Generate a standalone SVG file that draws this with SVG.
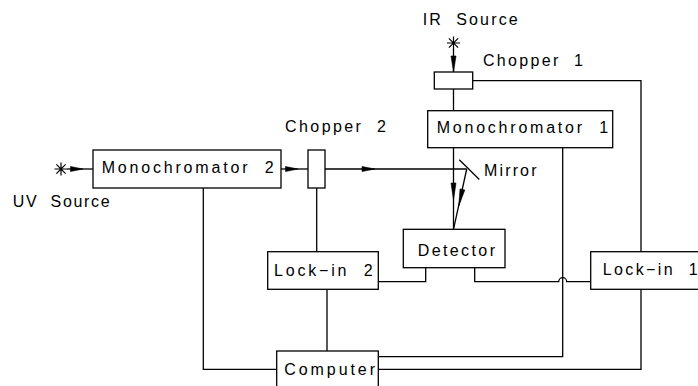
<svg xmlns="http://www.w3.org/2000/svg" width="698" height="386" viewBox="0 0 698 386">
<style>
.ln{fill:none;stroke:#000;stroke-width:1.3}
.st{fill:none;stroke:#000;stroke-width:1.2}
.bx{fill:#fff;stroke:#000;stroke-width:1.3}
.ah{fill:#000;stroke:#000;stroke-width:0.6}
text{font-family:"Liberation Sans",Arial,sans-serif;font-size:16px;fill:#000;white-space:pre}
</style>
<rect width="698" height="386" fill="#fff"/>
<g id="connectors">
<path class="ln" d="M67 169 H93"/>
<polygon class="ah" points="83,169 70.5,166.5 70.5,171.5"/>
<path class="ln" d="M281 169 H308"/>
<polygon class="ah" points="298,169 285.5,166.5 285.5,171.5"/>
<path class="ln" d="M325 169 H466.7"/>
<polygon class="ah" points="375,169 362,166.5 362,171.5"/>
<path class="ln" d="M453.5 49 V72"/>
<polygon class="ah" points="453.5,72 451,56 456,56"/>
<path class="ln" d="M453.5 89 V110.7"/>
<path class="ln" d="M453.5 147.7 V229.3"/>
<polygon class="ah" points="453.5,200 451,183 456,183"/>
<path class="ln" d="M466.7 169 L453.5 229.3"/>
<polygon class="ah" points="458.8,206 464.8,189.9 460,188.9"/>
<path class="ln" d="M459.3 159.7 L479.3 179.5"/>
<path class="ln" d="M203.3 188 V369.3 H276.7"/>
<path class="ln" d="M316.7 188 V251.7"/>
<path class="ln" d="M327 289.3 V351"/>
<path class="ln" d="M378.3 356.7 H562.7 V147.7"/>
<path class="ln" d="M378.3 369.3 H641 V80.7 H472.7"/>
<path class="ln" d="M378.3 281.7 H425.7 V267.7"/>
<path class="ln" d="M474.7 267.7 V281.7 H558.7 A4 4 0 0 1 566.7 281.7 H590.7"/>
</g>
<g id="uv-source">
<path class="st" d="M61 162.5 V175.5 M54.5 169 H67 M56.4 164.4 L65.6 173.6 M56.4 173.6 L65.6 164.4"/>
<text x="12.7" y="207" textLength="97" lengthAdjust="spacing">UV  Source</text>
</g>
<g id="ir-source">
<path class="st" d="M453.5 36.5 V49.5 M447 43 H460 M448.9 38.4 L458.1 47.6 M448.9 47.6 L458.1 38.4"/>
<text x="422.7" y="25" textLength="95" lengthAdjust="spacing">IR  Source</text>
</g>
<g id="monochromator2">
<rect class="bx" x="93" y="150" width="188" height="38"/>
<text x="101.7" y="172.7" textLength="172" lengthAdjust="spacing">Monochromator  2</text>
</g>
<g id="chopper2">
<rect class="bx" x="308" y="150" width="17" height="38"/>
<text x="285" y="131.5" textLength="101" lengthAdjust="spacing">Chopper  2</text>
</g>
<g id="chopper1">
<rect class="bx" x="434.3" y="72" width="38.4" height="17"/>
<text x="483" y="65.7" textLength="100" lengthAdjust="spacing">Chopper  1</text>
</g>
<g id="monochromator1">
<rect class="bx" x="427.7" y="110.7" width="185" height="37"/>
<text x="436.7" y="133.3" textLength="171.5" lengthAdjust="spacing">Monochromator  1</text>
</g>
<g id="mirror">
<text x="484" y="176" textLength="52.5" lengthAdjust="spacing">Mirror</text>
</g>
<g id="detector">
<rect class="bx" x="403.3" y="229.3" width="101.7" height="38.4"/>
<text x="417.7" y="256" textLength="77.3" lengthAdjust="spacing">Detector</text>
</g>
<g id="lockin2">
<rect class="bx" x="267.7" y="251.7" width="110.6" height="37.6"/>
<text x="274" y="276" textLength="98.7" lengthAdjust="spacing">Lock−in  2</text>
</g>
<g id="lockin1">
<rect class="bx" x="590.7" y="251.7" width="120" height="37.6"/>
<text x="602.7" y="275" textLength="95" lengthAdjust="spacing">Lock−in  1</text>
</g>
<g id="computer">
<rect class="bx" x="276.7" y="351" width="101.6" height="50"/>
<text x="284.3" y="375" textLength="90.7" lengthAdjust="spacing">Computer</text>
</g>
</svg>
